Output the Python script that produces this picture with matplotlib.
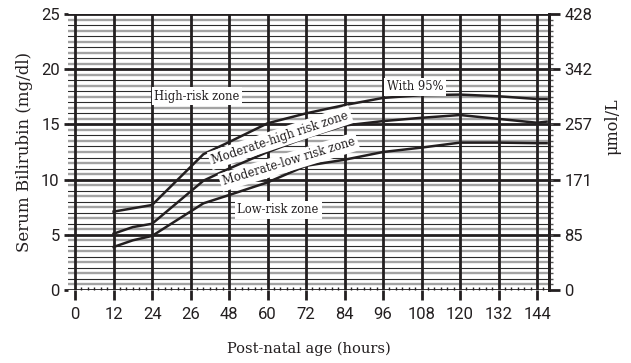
import numpy as np
import matplotlib
matplotlib.use("Agg")
import matplotlib.pyplot as plt

# hour-specific bilirubin nomogram (mg/dl)
hours = [12, 18, 24, 40, 48, 60, 72, 84, 96, 108, 120, 132, 144, 147]
p95 = [7.1, 7.4, 7.7, 12.3, 13.4, 15.1, 16.0, 16.75, 17.4, 17.65, 17.7, 17.55, 17.3, 17.3]
p75 = [5.1, 5.7, 6.0, 9.9, 11.0, 12.5, 13.8, 14.9, 15.3, 15.6, 15.85, 15.5, 15.15, 15.25]
p40 = [3.9, 4.5, 4.9, 7.85, 8.6, 9.75, 11.25, 11.8, 12.5, 12.9, 13.35, 13.35, 13.3, 13.3]

xticks = [0, 12, 24, 36, 48, 60, 72, 84, 96, 108, 120, 132, 144]
xticklabels = ["0", "12", "24", "26", "48", "60", "72", "84", "96", "108", "120", "132", "144"]
umol_ticks = [0, 85, 171, 257, 342, 428]

serif = "DejaVu Serif"
narrow = ["Roboto", "DejaVu Sans"]
ink = "#231f20"

fig = plt.figure(figsize=(6.31, 3.63), dpi=100)
ax = fig.add_axes([0.1078, 0.2011, 0.7623, 0.7603])
ax.set_xlim(-2.2, 147.75)
ax.set_ylim(0, 25)

# background ruling
for v in np.arange(0.5, 25, 0.5):
    if v % 5 == 0:
        continue
    if v % 1 == 0:
        ax.axhline(v, color="#2b2b2b", lw=0.8, zorder=1)
    else:
        ax.axhline(v, color="#a3a3a3", lw=1.7, zorder=1)
for v in range(0, 26, 5):
    ax.axhline(v, color=ink, lw=2.0, zorder=2)
for h in xticks:
    ax.axvline(h, color=ink, lw=2.0, zorder=2)

for s in ["left", "top", "bottom"]:
    ax.spines[s].set_visible(False)
ax.spines["right"].set_linewidth(2.0)
ax.spines["right"].set_color(ink)

ax.set_xticks(xticks)
ax.set_xticklabels(xticklabels, family=narrow, fontsize=12, color=ink)
ax.set_xticks([h for h in range(2, 147, 2) if h % 12 != 0], minor=True)
ax.tick_params(axis="x", which="major", length=7.5, width=2.0, color=ink, pad=5)
ax.tick_params(axis="x", which="minor", direction="in", length=2.5, width=1.0, color=ink)
ax.set_yticks(range(0, 26, 5))
ax.set_yticklabels([str(v) for v in range(0, 26, 5)], family=narrow, fontsize=12, color=ink)
ax.tick_params(axis="y", which="major", length=3, width=2.0, color=ink, pad=3)

# curves
for series in (p95, p75, p40):
    ax.plot(hours, series, color=ink, lw=1.8, zorder=5)

box = dict(facecolor="white", edgecolor="none", pad=2.0)
ax.text(38, 17.57, "High-risk zone", family=serif, fontsize=8.3, color=ink,
        ha="center", va="center", bbox=box, zorder=6)
ax.text(106, 18.4, "With 95%", family=serif, fontsize=8.3, color=ink,
        ha="center", va="center", bbox=box, zorder=6)
ax.text(64, 13.8, "Moderate-high risk zone", family=serif, fontsize=8.3, color=ink,
        ha="center", va="center", rotation=18.5, bbox=box, zorder=6)
ax.text(66.7, 11.6, "Moderate-low risk zone", family=serif, fontsize=8.3, color=ink,
        ha="center", va="center", rotation=17, bbox=box, zorder=6)
ax.text(63.3, 7.25, "Low-risk zone", family=serif, fontsize=8.3, color=ink,
        ha="center", va="center", bbox=box, zorder=6)

ax.set_xlabel("Post-natal age (hours)", family=serif, fontsize=10.5, color=ink, labelpad=14)
ax.set_ylabel("Serum Bilirubin (mg/dl)", family=serif, fontsize=12, color=ink, labelpad=6)

ax2 = ax.twinx()
ax2.set_ylim(0, 428)
ax2.set_yticks(umol_ticks)
ax2.set_yticklabels([str(v) for v in umol_ticks], family=narrow, fontsize=12, color=ink)
ax2.set_yticks(np.arange(0, 428, 428 / 50), minor=True)
ax2.tick_params(axis="y", which="major", length=8, width=2.0, color=ink, pad=3)
ax2.tick_params(axis="y", which="minor", length=3, width=1.0, color="#555555")
for s in ["left", "top", "bottom"]:
    ax2.spines[s].set_visible(False)
ax2.spines["right"].set_linewidth(2.0)
ax2.spines["right"].set_color(ink)
ax2.set_ylabel("μmol/L", family=serif, fontsize=11.5, color=ink)
ax2.yaxis.set_label_coords(1.116, 0.59)

fig.savefig("out.png", dpi=100)
